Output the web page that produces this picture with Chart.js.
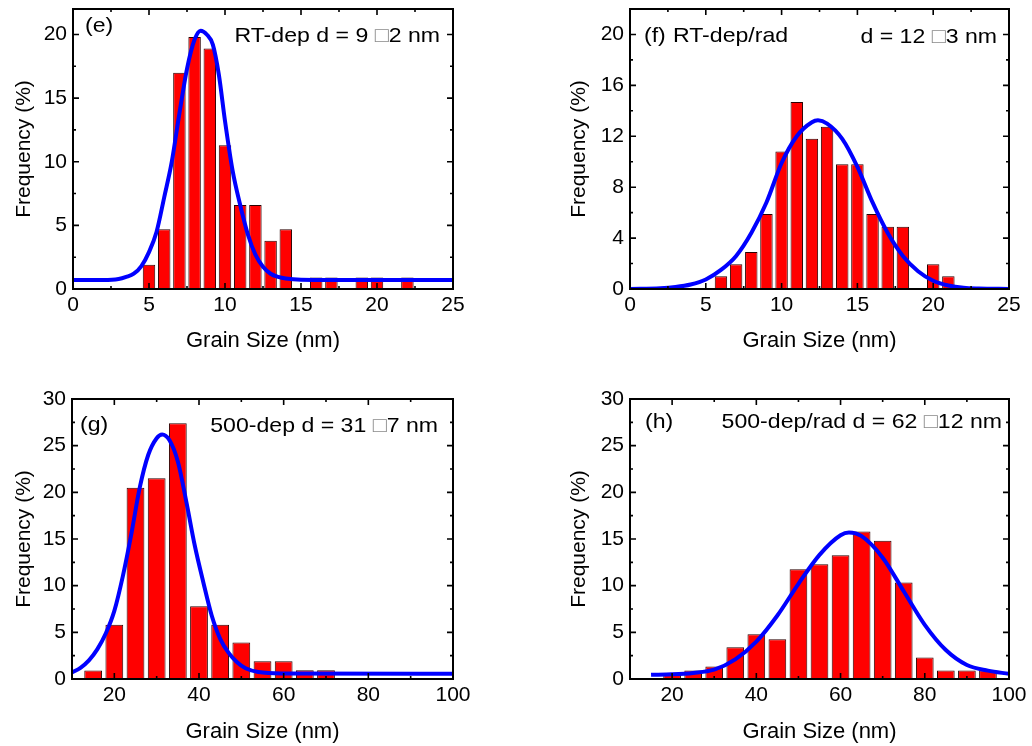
<!DOCTYPE html>
<html>
<head>
<meta charset="utf-8">
<title>Grain size distributions</title>
<script src="https://cdn.jsdelivr.net/npm/chart.js@4.4.1/dist/chart.umd.min.js"></script>
<style>
  body { margin: 0; background: #fff; }
  #wrap { position: relative; width: 1032px; height: 746px; }
  canvas { position: absolute; }
</style>
</head>
<body>
<div id="wrap">
  <canvas id="canvas-e" width="516" height="373" style="left:0;top:0"></canvas>
  <canvas id="canvas-f" width="516" height="373" style="left:516px;top:0"></canvas>
  <canvas id="canvas-g" width="516" height="373" style="left:0;top:373px"></canvas>
  <canvas id="canvas-h" width="516" height="373" style="left:516px;top:373px"></canvas>
</div>
<script>
// (e) RT-dep
var eSize = [5, 6, 7, 8, 9, 10, 11, 12, 13, 14, 16, 17, 19, 20, 22];
var eFreq = [1.9, 4.7, 17.0, 19.8, 18.9, 11.3, 6.6, 6.6, 3.8, 4.7, 0.9, 0.9, 0.9, 0.9, 0.9];
var eFitX = [0, 2, 3, 3.5, 4, 4.5, 5, 5.5, 6, 6.5, 7, 7.5, 8, 8.4, 8.8, 9.2, 9.6, 10, 10.5, 11, 11.5, 12, 12.5, 13, 13.5, 14, 15, 17, 25];
var eFitY = [0.7, 0.7, 0.78, 0.95, 1.2, 1.8, 2.9, 4.5, 7.2, 10.0, 13.8, 17.3, 19.6, 20.3, 20.0, 19.2, 16.8, 13.2, 9.3, 6.6, 4.3, 2.7, 1.75, 1.2, 0.95, 0.82, 0.72, 0.7, 0.7];
var eXTicks = [0, 5, 10, 15, 20, 25];
var eYTicks = [0, 5, 10, 15, 20];

// (f) RT-dep/rad
var fSize = [6, 7, 8, 9, 10, 11, 12, 13, 14, 15, 16, 17, 18, 20, 21];
var fFreq = [1.0, 1.95, 2.9, 5.9, 10.8, 14.7, 11.8, 12.75, 9.8, 9.8, 5.9, 4.9, 4.9, 1.95, 1.0];
var fFitX = [0, 2, 3, 4, 5, 6, 7, 8, 9, 10, 11, 12, 12.4, 13, 14, 15, 16, 17, 18, 19, 20, 21, 22, 23, 25];
var fFitY = [0, 0.05, 0.15, 0.35, 0.75, 1.5, 2.6, 4.4, 6.8, 9.9, 12.0, 13.1, 13.25, 13.0, 11.8, 9.6, 6.8, 4.4, 2.6, 1.4, 0.65, 0.28, 0.1, 0.04, 0];
var fXTicks = [0, 5, 10, 15, 20, 25];
var fYTicks = [0, 4, 8, 12, 16, 20];

// (g) 500-dep
var gSize = [15, 20, 25, 30, 35, 40, 45, 50, 55, 60, 65, 70];
var gFreq = [0.9, 5.8, 20.5, 21.5, 27.4, 7.8, 5.8, 3.9, 1.9, 1.9, 0.95, 0.95];
var gFitX = [10, 12, 14, 16, 18, 20, 22, 24, 26, 28, 30, 31.3, 33, 35, 37, 39, 41, 43, 45, 47, 49, 51, 54, 60, 100];
var gFitY = [0.7, 1.2, 2.0, 3.2, 4.9, 7.3, 11.0, 15.5, 20.5, 24.0, 25.8, 26.2, 25.6, 23.3, 19.0, 14.3, 10.4, 6.8, 4.3, 2.8, 1.8, 1.15, 0.75, 0.6, 0.55];
var gXTicks = [20, 40, 60, 80, 100];
var gYTicks = [0, 5, 10, 15, 20, 25, 30];

// (h) 500-dep/rad
var hSize = [20, 25, 30, 35, 40, 45, 50, 55, 60, 65, 70, 75, 80, 85, 90, 95];
var hFreq = [0.5, 0.9, 1.35, 3.4, 4.8, 4.25, 11.75, 12.3, 13.25, 15.8, 14.8, 10.35, 2.3, 0.9, 0.9, 0.9];
var hFitX = [15, 20, 25, 30, 35, 40, 45, 50, 55, 60, 62, 65, 70, 75, 80, 85, 90, 95, 100];
var hFitY = [0.45, 0.5, 0.65, 1.0, 2.1, 4.0, 6.8, 10.2, 13.3, 15.4, 15.7, 15.3, 13.0, 9.4, 5.8, 3.1, 1.5, 0.9, 0.55];
var hXTicks = [20, 40, 60, 80, 100];
var hYTicks = [0, 5, 10, 15, 20, 25, 30];

Chart.defaults.font.family = "'Liberation Sans', Arial, sans-serif";
Chart.defaults.color = '#000';

function pairs(xs, ys) {
  return xs.map(function (x, i) { return {x: x, y: ys[i]}; });
}

// minor ticks half way between the major ones (and one step outside)
function minors(ticks, min, max) {
  var out = [];
  var step = ticks[1] - ticks[0];
  var v = ticks[0] - step / 2;
  for (; v <= max; v += step) {
    if (v >= min) out.push(v);
  }
  return out;
}

// box round the plot, ticks pointing inward on all four sides, panel notes
function framePlugin(p) {
  return {
    id: 'frame',
    afterDraw: function (chart) {
      var a = chart.chartArea, c = chart.ctx;
      var xs = chart.scales.x, ys = chart.scales.y;
      c.save();
      c.strokeStyle = '#000';
      c.lineWidth = 1.6;
      c.beginPath();
      function xt(list, len) {
        list.forEach(function (v) {
          var px = xs.getPixelForValue(v);
          c.moveTo(px, a.bottom); c.lineTo(px, a.bottom - len);
          c.moveTo(px, a.top); c.lineTo(px, a.top + len);
        });
      }
      function yt(list, len) {
        list.forEach(function (v) {
          var py = ys.getPixelForValue(v);
          c.moveTo(a.left, py); c.lineTo(a.left + len, py);
          c.moveTo(a.right, py); c.lineTo(a.right - len, py);
        });
      }
      xt(p.xTicks, 6); xt(minors(p.xTicks, p.xMin, p.xMax), 3);
      yt(p.yTicks, 6); yt(minors(p.yTicks, 0, p.yMax), 3);
      c.stroke();
      c.lineWidth = 2;
      c.strokeRect(a.left, a.top, a.right - a.left, a.bottom - a.top);

      // the source lettering is a little wide, so stretch it sideways
      var sx = 1.1;
      c.font = '21px "Liberation Sans", Arial, sans-serif';
      c.textBaseline = 'alphabetic';
      c.textAlign = 'left';
      p.notes.forEach(function (n) {
        var w = 0;
        n.parts.forEach(function (s) { w += c.measureText(s[0]).width * sx; });
        var x = n.side === 'left' ? a.left + n.dx : a.right - n.dx - w;
        var y = a.top + n.dy;
        n.parts.forEach(function (s) {
          c.save();
          c.translate(x, y);
          c.scale(sx, 1);
          c.fillStyle = s[1];
          c.fillText(s[0], 0, 0);
          c.restore();
          x += c.measureText(s[0]).width * sx;
        });
      });
      c.restore();
    }
  };
}

function drawPanel(id, p) {
  var ctx = document.getElementById(id);
  return new Chart(ctx, {
    type: 'bar',
    data: {
      datasets: [
        {
          type: 'line',
          data: pairs(p.fitX, p.fitY),
          borderColor: '#0000ff',
          borderWidth: 4,
          pointRadius: 0,
          cubicInterpolationMode: 'monotone',
          order: 1
        },
        {
          data: pairs(p.size, p.freq),
          backgroundColor: '#ff0000',
          borderColor: '#2a0000',
          borderWidth: 1,
          borderSkipped: false,
          barPercentage: p.barPct,
          categoryPercentage: 1,
          order: 2
        }
      ]
    },
    options: {
      responsive: false,
      animation: false,
      devicePixelRatio: 1,
      layout: { padding: { top: p.padTop, right: p.padRight, left: 0, bottom: 0 } },
      plugins: { legend: { display: false }, tooltip: { enabled: false } },
      scales: {
        x: {
          type: 'linear',
          min: p.xMin,
          max: p.xMax,
          offset: false,
          grid: { display: false, drawTicks: false },
          border: { display: false },
          afterBuildTicks: function (s) { s.ticks = p.xTicks.map(function (v) { return {value: v}; }); },
          afterFit: function (s) { s.height = p.xAxisH; s.paddingLeft = 0; s.paddingRight = 0; },
          ticks: { font: { size: 21 }, padding: 4, maxRotation: 0, autoSkip: false },
          title: { display: true, text: 'Grain Size (nm)', font: { size: 22 }, padding: { top: 0, bottom: p.xTitlePad } }
        },
        y: {
          min: 0,
          max: p.yMax,
          grid: { display: false, drawTicks: false },
          border: { display: false },
          afterBuildTicks: function (s) { s.ticks = p.yTicks.map(function (v) { return {value: v}; }); },
          afterFit: function (s) { s.width = p.yAxisW; s.paddingTop = 0; s.paddingBottom = 0; },
          ticks: { font: { size: 21 }, padding: 6, autoSkip: false },
          title: { display: true, text: 'Frequency (%)', font: { size: 21 }, padding: { top: p.yTitlePad, bottom: 0 } }
        }
      }
    },
    plugins: [framePlugin(p)]
  });
}

var BOX = '\u25A1';

drawPanel('canvas-e', {
  size: eSize, freq: eFreq, fitX: eFitX, fitY: eFitY,
  xTicks: eXTicks, yTicks: eYTicks, xMin: 0, xMax: 25, yMax: 22, barPct: 0.82,
  padTop: 9, padRight: 63, yAxisW: 73, xAxisH: 84, xTitlePad: 19, yTitlePad: 12,
  notes: [
    { side: 'left', dx: 12, dy: 23, parts: [['(e)', '#000']] },
    { side: 'right', dx: 13, dy: 33, parts: [['RT-dep d = 9 ', '#000'], [BOX, '#8a8a8a'], ['2 nm', '#000']] }
  ]
});

drawPanel('canvas-f', {
  size: fSize, freq: fFreq, fitX: fFitX, fitY: fFitY,
  xTicks: fXTicks, yTicks: fYTicks, xMin: 0, xMax: 25, yMax: 22, barPct: 0.82,
  padTop: 9, padRight: 23, yAxisW: 114, xAxisH: 84, xTitlePad: 19, yTitlePad: 51,
  notes: [
    { side: 'left', dx: 14, dy: 33, parts: [['(f)', '#000']] },
    { side: 'left', dx: 43, dy: 33, parts: [['RT-dep/rad', '#000']] },
    { side: 'right', dx: 12, dy: 34, parts: [['d = 12 ', '#000'], [BOX, '#8a8a8a'], ['3 nm', '#000']] }
  ]
});

drawPanel('canvas-g', {
  size: gSize, freq: gFreq, fitX: gFitX, fitY: gFitY,
  xTicks: gXTicks, yTicks: gYTicks, xMin: 10, xMax: 100, yMax: 30, barPct: 0.84,
  padTop: 26, padRight: 63, yAxisW: 72, xAxisH: 67, xTitlePad: 1, yTitlePad: 12,
  notes: [
    { side: 'left', dx: 8, dy: 32, parts: [['(g)', '#000']] },
    { side: 'right', dx: 15, dy: 33, parts: [['500-dep d = 31 ', '#000'], [BOX, '#8a8a8a'], ['7 nm', '#000']] }
  ]
});

drawPanel('canvas-h', {
  size: hSize, freq: hFreq, fitX: hFitX, fitY: hFitY,
  xTicks: hXTicks, yTicks: hYTicks, xMin: 10, xMax: 100, yMax: 30, barPct: 0.84,
  padTop: 26, padRight: 23, yAxisW: 114, xAxisH: 67, xTitlePad: 1, yTitlePad: 51,
  notes: [
    { side: 'left', dx: 15, dy: 29, parts: [['(h)', '#000']] },
    { side: 'right', dx: 7, dy: 29, parts: [['500-dep/rad d = 62 ', '#000'], [BOX, '#8a8a8a'], ['12 nm', '#000']] }
  ]
});
</script>
</body>
</html>
